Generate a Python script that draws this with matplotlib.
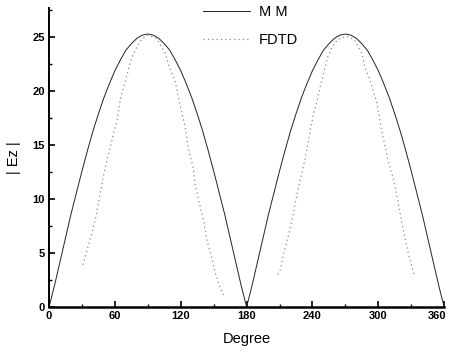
import numpy as np
import matplotlib
matplotlib.use("Agg")
import matplotlib.pyplot as plt
from matplotlib.ticker import MultipleLocator
from matplotlib.transforms import ScaledTranslation

plt.rcParams['font.family'] = ['Liberation Sans', 'DejaVu Sans']

# MM curve (degree, |Ez|)
mm_deg = [0, 5, 10, 15, 20, 25, 30, 35, 40, 45, 50, 55, 60, 65, 70, 75, 80, 85, 90,
          95, 100, 105, 110, 115, 120, 125, 130, 135, 140, 145, 150, 155, 160, 165, 170, 175, 180,
          185, 190, 195, 200, 205, 210, 215, 220, 225, 230, 235, 240, 245, 250, 255, 260, 265, 270,
          275, 280, 285, 290, 295, 300, 305, 310, 315, 320, 325, 330, 335, 340, 345, 350, 355, 360]
mm_ez = [0, 2.0, 4.2, 6.4, 8.6, 10.6, 12.6, 14.5, 16.3, 17.9, 19.4, 20.7, 21.9, 22.9, 23.8, 24.4, 24.9, 25.2, 25.3,
         25.2, 24.9, 24.4, 23.8, 22.9, 21.9, 20.7, 19.4, 17.9, 16.3, 14.5, 12.6, 10.6, 8.6, 6.4, 4.2, 2.0, 0,
         2.0, 4.2, 6.4, 8.6, 10.6, 12.6, 14.5, 16.3, 17.9, 19.4, 20.7, 21.9, 22.9, 23.8, 24.4, 24.9, 25.2, 25.3,
         25.2, 24.9, 24.4, 23.8, 22.9, 21.9, 20.7, 19.4, 17.9, 16.3, 14.5, 12.6, 10.6, 8.6, 6.4, 4.2, 2.0, 0]

# FDTD curve, first lobe
fdtd1_deg = [31, 35, 39, 42, 46.5, 49.5, 52.5, 55, 57, 59.5, 62, 65, 71, 75, 81, 85, 90, 98,
             106, 109, 115, 119, 124, 127, 131.5, 133, 137, 141, 144, 148, 151, 155, 159.5]
fdtd1_ez = [3.9, 5.4, 6.8, 8.0, 10.5, 12.1, 13.5, 14.4, 15.3, 16.4, 17.3, 19.3, 21.5, 23.0, 24.3, 24.9, 25.2, 24.9,
            23.5, 22.4, 20.9, 18.9, 16.7, 14.7, 12.8, 11.4, 9.6, 7.9, 6.1, 4.7, 3.3, 2.0, 0.95]

# FDTD curve, second lobe
fdtd2_deg = [208.5, 210.5, 213.5, 217, 220.5, 226, 233.5, 238, 241, 244, 247, 250, 254, 258, 263, 271,
             278, 285, 288, 292.5, 298.5, 303, 309, 314, 317.5, 321, 324, 327.5, 331.5, 333]
fdtd2_ez = [3.0, 3.4, 4.8, 6.2, 7.6, 10.5, 13.8, 16.4, 17.9, 19.0, 20.4, 21.6, 23.2, 24.1, 24.8, 25.1,
            24.8, 23.5, 22.2, 21.0, 19.0, 16.4, 13.5, 11.8, 10.0, 8.1, 6.5, 4.9, 3.4, 2.9]

x_ticks = [0, 60, 120, 180, 240, 300, 360]
y_ticks = [0, 5, 10, 15, 20, 25]

fig = plt.figure(figsize=(4.5, 3.54), dpi=100)
ax = fig.add_axes([0.109, 0.133, 0.878, 0.844])

ax.plot(mm_deg, mm_ez, color='#222222', lw=0.7, label='M M')
fd_x = fdtd1_deg + [np.nan] + fdtd2_deg
fd_y = fdtd1_ez + [np.nan] + fdtd2_ez
ax.plot(fd_x, fd_y, color='#8a8a8a', lw=0.9, linestyle=(0, (1, 2.5)), label='FDTD')

ax.set_xlim(0, 360)
ax.set_ylim(0, 27.7)
ax.set_xticks(x_ticks)
ax.set_xticklabels([str(v) for v in x_ticks])
ax.set_yticks(y_ticks)
ax.set_yticklabels([str(v) for v in y_ticks])
ax.xaxis.set_minor_locator(MultipleLocator(30))
ax.yaxis.set_minor_locator(MultipleLocator(2.5))
ax.tick_params(which='major', direction='in', length=4, width=1.2, labelsize=8, pad=3)
ax.tick_params(which='minor', direction='in', length=2, width=1.0)
for lab in ax.get_xticklabels() + ax.get_yticklabels():
    lab.set_fontweight('bold')
last = ax.get_xticklabels()[-1]
last.set_transform(last.get_transform() + ScaledTranslation(-5 / 72, 0, fig.dpi_scale_trans))

for s in ['top', 'right']:
    ax.spines[s].set_visible(False)
ax.spines['bottom'].set_linewidth(1.8)
ax.spines['left'].set_linewidth(1.4)

ax.set_xlabel('Degree', fontsize=10.5, labelpad=8)
ax.set_ylabel('| Ez |', fontsize=10.5, labelpad=8)

ax.legend(loc='upper center', bbox_to_anchor=(0.51, 1.055), frameon=False, fontsize=10.5,
          handlelength=3.2, handletextpad=0.6, labelspacing=1.0)

fig.savefig('out.png', dpi=100)
